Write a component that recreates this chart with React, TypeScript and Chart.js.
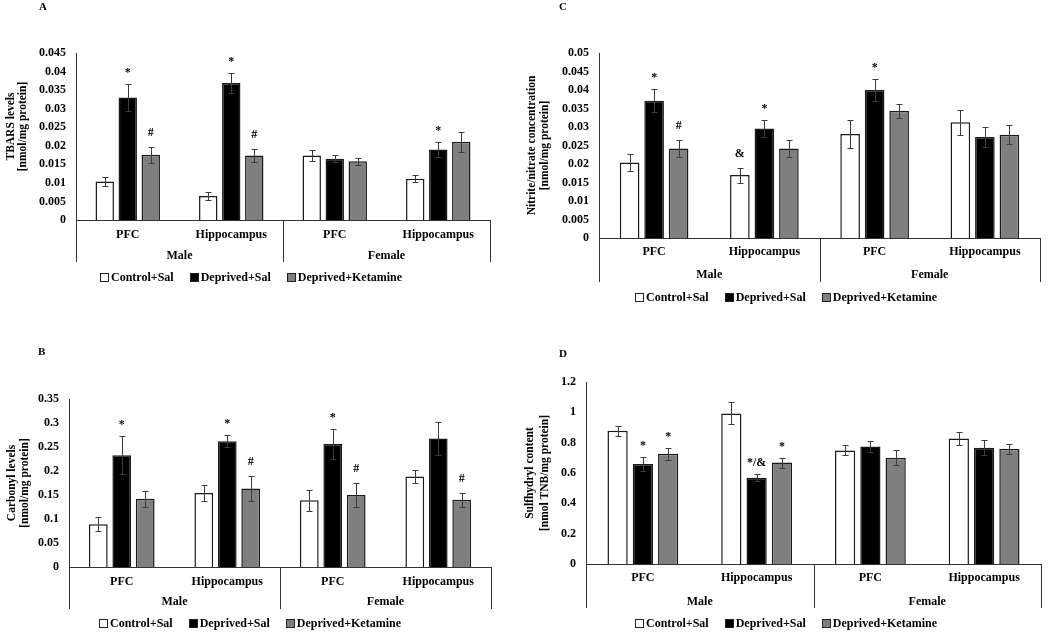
import React, { useEffect, useRef } from 'react';
import { Chart, registerables } from 'chart.js';

Chart.register(...registerables);

// ---------- shared labels ----------
const categories = ['PFC', 'Hippocampus', 'PFC', 'Hippocampus'];
const sexGroups = ['Male', 'Female'];
const seriesNames = ['Control+Sal', 'Deprived+Sal', 'Deprived+Ketamine'];
const seriesColors = ['#ffffff', '#000000', '#7f7f7f'];

// ---------- A: TBARS ----------
const tbarsControl = [0.0104, 0.0065, 0.0174, 0.0111];
const tbarsDeprived = [0.033, 0.0369, 0.0165, 0.019];
const tbarsKetamine = [0.0176, 0.0174, 0.0158, 0.0211];
const tbarsControlErr = [0.0013, 0.001, 0.0014, 0.0009];
const tbarsDeprivedErr = [0.0036, 0.0028, 0.001, 0.002];
const tbarsKetamineErr = [0.0022, 0.0018, 0.001, 0.0027];
const tbarsControlSig = ['', '', '', ''];
const tbarsDeprivedSig = ['*', '*', '', '*'];
const tbarsKetamineSig = ['#', '#', '', ''];
const tbarsAxis = [0, 0.045, 0.005];

// ---------- B: Carbonyl ----------
const carbControl = [0.089, 0.154, 0.139, 0.1885];
const carbDeprived = [0.233, 0.262, 0.256, 0.2675];
const carbKetamine = [0.142, 0.1635, 0.15, 0.14];
const carbControlErr = [0.0145, 0.016, 0.0215, 0.014];
const carbDeprivedErr = [0.039, 0.013, 0.0305, 0.034];
const carbKetamineErr = [0.017, 0.027, 0.024, 0.014];
const carbControlSig = ['', '', '', ''];
const carbDeprivedSig = ['*', '*', '*', ''];
const carbKetamineSig = ['', '#', '#', '#'];
const carbAxis = [0, 0.35, 0.05];

// ---------- C: Nitrite/nitrate ----------
const nitControl = [0.0204, 0.017, 0.0281, 0.0313];
const nitDeprived = [0.0371, 0.0296, 0.04, 0.0273];
const nitKetamine = [0.0242, 0.0242, 0.0344, 0.0279];
const nitControlErr = [0.0024, 0.002, 0.0038, 0.0034];
const nitDeprivedErr = [0.0031, 0.0023, 0.0029, 0.0028];
const nitKetamineErr = [0.0023, 0.0023, 0.0019, 0.0026];
const nitControlSig = ['', '&', '', ''];
const nitDeprivedSig = ['*', '*', '*', ''];
const nitKetamineSig = ['#', '', '', ''];
const nitAxis = [0, 0.05, 0.005];

// ---------- D: Sulfhydryl ----------
const sulfControl = [0.878, 0.993, 0.749, 0.828];
const sulfDeprived = [0.66, 0.568, 0.775, 0.766];
const sulfKetamine = [0.727, 0.669, 0.7, 0.76];
const sulfControlErr = [0.033, 0.073, 0.033, 0.042];
const sulfDeprivedErr = [0.044, 0.024, 0.037, 0.049];
const sulfKetamineErr = [0.04, 0.033, 0.049, 0.033];
const sulfControlSig = ['', '', '', ''];
const sulfDeprivedSig = ['*', '*/&', '', ''];
const sulfKetamineSig = ['*', '*', '', ''];
const sulfAxis = [0, 1.2, 0.2];

const FONT = '"Liberation Serif", "Times New Roman", serif';

type PanelCfg = {
  letter: string;
  left: number; top: number; width: number; height: number;
  plotLeft: number; plotRight: number; plotTop: number; plotBottom: number;
  axis: number[];
  titleLines: string[]; titleX: number[]; titleDy: number;
  values: number[][]; errors: number[][]; sigs: string[][];
  catDy: number; groupDy: number; sepLen: number; legendDy: number; legendCx: number;
  letterX: number; letterY: number;
};

const panels: PanelCfg[] = [
  {
    letter: 'A', left: 0, top: 0, width: 520, height: 300,
    plotLeft: 76, plotRight: 490, plotTop: 53, plotBottom: 220,
    axis: tbarsAxis,
    titleLines: ['TBARS levels', '[nmol/mg protein]'], titleX: [11, 23], titleDy: -10,
    values: [tbarsControl, tbarsDeprived, tbarsKetamine],
    errors: [tbarsControlErr, tbarsDeprivedErr, tbarsKetamineErr],
    sigs: [tbarsControlSig, tbarsDeprivedSig, tbarsKetamineSig],
    catDy: 15, groupDy: 36, sepLen: 42, legendDy: 57, legendCx: 251,
    letterX: 43, letterY: 7,
  },
  {
    letter: 'C', left: 520, top: 0, width: 530, height: 320,
    plotLeft: 79, plotRight: 520, plotTop: 53, plotBottom: 238,
    axis: nitAxis,
    titleLines: ['Nitrite/nitrate concentration', '[nmol/mg protein]'], titleX: [12, 25], titleDy: 0,
    values: [nitControl, nitDeprived, nitKetamine],
    errors: [nitControlErr, nitDeprivedErr, nitKetamineErr],
    sigs: [nitControlSig, nitDeprivedSig, nitKetamineSig],
    catDy: 14, groupDy: 37, sepLen: 44, legendDy: 59, legendCx: 266,
    letterX: 43, letterY: 7,
  },
  {
    letter: 'B', left: 0, top: 300, width: 520, height: 332,
    plotLeft: 69, plotRight: 491, plotTop: 99, plotBottom: 267,
    axis: carbAxis,
    titleLines: ['Carbonyl levels', '[nmol/mg protein]'], titleX: [12, 25], titleDy: 0,
    values: [carbControl, carbDeprived, carbKetamine],
    errors: [carbControlErr, carbDeprivedErr, carbKetamineErr],
    sigs: [carbControlSig, carbDeprivedSig, carbKetamineSig],
    catDy: 15, groupDy: 35, sepLen: 42, legendDy: 56, legendCx: 250,
    letterX: 42, letterY: 52,
  },
  {
    letter: 'D', left: 520, top: 320, width: 530, height: 312,
    plotLeft: 66, plotRight: 521, plotTop: 62, plotBottom: 244,
    axis: sulfAxis,
    titleLines: ['Sulfhydryl content', '[nmol TNB/mg protein]'], titleX: [10, 25], titleDy: 0,
    values: [sulfControl, sulfDeprived, sulfKetamine],
    errors: [sulfControlErr, sulfDeprivedErr, sulfKetamineErr],
    sigs: [sulfControlSig, sulfDeprivedSig, sulfKetamineSig],
    catDy: 14, groupDy: 38, sepLen: 44, legendDy: 59, legendCx: 266,
    letterX: 43, letterY: 34,
  },
];

function makePlugin(cfg: PanelCfg) {
  return {
    id: 'panelDecor' + cfg.letter,
    afterDatasetsDraw(chart: any) {
      const ctx = chart.ctx;
      const y = chart.scales.y;
      chart.data.datasets.forEach((ds: any, di: number) => {
        const meta = chart.getDatasetMeta(di);
        meta.data.forEach((el: any, i: number) => {
          const v = ds.data[i];
          const e = cfg.errors[di][i];
          const top = Math.round(y.getPixelForValue(v + e)) + 0.5;
          const bot = Math.round(y.getPixelForValue(v - e)) + 0.5;
          const x = Math.round(el.x) + 0.5;
          ctx.save();
          ctx.strokeStyle = '#3c3c3c';
          ctx.lineWidth = 1;
          ctx.beginPath();
          ctx.moveTo(x, top); ctx.lineTo(x, bot);
          ctx.moveTo(x - 3, top); ctx.lineTo(x + 3, top);
          ctx.moveTo(x - 3, bot); ctx.lineTo(x + 3, bot);
          ctx.stroke();
          const sig = cfg.sigs[di][i];
          if (sig) {
            ctx.fillStyle = '#000';
            ctx.font = `bold 12px ${FONT}`;
            ctx.textAlign = 'center';
            ctx.textBaseline = 'alphabetic';
            ctx.fillText(sig, el.x, top - (sig.startsWith('*') ? 9 : 12));
          }
          ctx.restore();
        });
      });
    },
    afterDraw(chart: any) {
      const ctx = chart.ctx;
      const area = chart.chartArea;
      const xs = chart.scales.x;
      ctx.save();
      // separators
      const mid = (xs.getPixelForValue(1) + xs.getPixelForValue(2)) / 2;
      const seps = [area.left, mid, area.right];
      ctx.strokeStyle = '#333';
      ctx.lineWidth = 1;
      ctx.beginPath();
      seps.forEach((sx) => {
        const px = Math.round(sx) + 0.5;
        ctx.moveTo(px, area.bottom);
        ctx.lineTo(px, area.bottom + cfg.sepLen);
      });
      ctx.stroke();
      // group labels
      ctx.fillStyle = '#000';
      ctx.font = `bold 12px ${FONT}`;
      ctx.textAlign = 'center';
      ctx.textBaseline = 'middle';
      ctx.fillText(sexGroups[0], (area.left + mid) / 2, area.bottom + cfg.groupDy);
      ctx.fillText(sexGroups[1], (mid + area.right) / 2, area.bottom + cfg.groupDy);
      // legend
      const ly = area.bottom + cfg.legendDy;
      const box = 8, gapBox = 3, gapItem = 16;
      const widths = chart.data.datasets.map((d: any) => ctx.measureText(d.label).width);
      const total = widths.reduce((a: number, w: number) => a + box + gapBox + w, 0) + gapItem * (widths.length - 1);
      let lx = cfg.legendCx - total / 2;
      chart.data.datasets.forEach((d: any, i: number) => {
        const bx = Math.round(lx) + 0.5;
        const by = Math.round(ly - box / 2) + 0.5;
        ctx.fillStyle = d.backgroundColor;
        ctx.fillRect(bx, by, box, box);
        ctx.strokeStyle = '#222';
        ctx.strokeRect(bx, by, box, box);
        ctx.fillStyle = '#000';
        ctx.textAlign = 'left';
        ctx.fillText(d.label, lx + box + gapBox, ly + 0.5);
        lx += box + gapBox + widths[i] + gapItem;
      });
      // y title
      const cy = (area.top + area.bottom) / 2 + cfg.titleDy;
      ctx.font = `bold 11.5px ${FONT}`;
      ctx.textAlign = 'center';
      cfg.titleLines.forEach((line, i) => {
        ctx.save();
        ctx.translate(cfg.titleX[i], cy);
        ctx.rotate(-Math.PI / 2);
        ctx.fillText(line, 0, 0);
        ctx.restore();
      });
      // panel letter
      ctx.font = `bold 11px ${FONT}`;
      ctx.textAlign = 'left';
      ctx.fillText(cfg.letter, cfg.letterX - 4, cfg.letterY);
      ctx.restore();
    },
  };
}

function Panel({ cfg }: { cfg: PanelCfg }) {
  const ref = useRef<HTMLCanvasElement>(null);
  useEffect(() => {
    const canvas = ref.current;
    if (!canvas) return;
    const [yMin, yMax, yStep] = cfg.axis;
    const chart = new Chart(canvas, {
      type: 'bar',
      data: {
        labels: categories,
        datasets: seriesNames.map((name, i) => ({
          label: name,
          data: cfg.values[i],
          backgroundColor: seriesColors[i],
          borderColor: '#1a1a1a',
          borderWidth: 1.5,
          categoryPercentage: 0.667,
          barPercentage: 0.8,
        })),
      },
      options: {
        responsive: false,
        animation: false,
        devicePixelRatio: 1,
        events: [],
        layout: {
          padding: { left: 0, top: cfg.plotTop, right: cfg.width - cfg.plotRight, bottom: 0 },
        },
        plugins: { legend: { display: false }, tooltip: { enabled: false } },
        scales: {
          x: {
            grid: { display: false, drawTicks: false },
            border: { display: true, color: '#333', width: 1 },
            ticks: {
              color: '#000',
              font: { family: FONT, size: 12, weight: 'bold' },
              padding: cfg.catDy - 7,
              autoSkip: false,
              maxRotation: 0,
            },
            afterFit: (s: any) => { s.height = cfg.height - cfg.plotBottom; },
          },
          y: {
            min: yMin,
            max: yMax,
            grid: { display: false, drawTicks: false },
            border: { display: true, color: '#333', width: 1 },
            ticks: {
              stepSize: yStep,
              color: '#000',
              font: { family: FONT, size: 12, weight: 'bold' },
              padding: 10,
              callback: (v: any) => String(+Number(v).toFixed(4)),
            },
            afterFit: (s: any) => { s.width = cfg.plotLeft; },
          },
        },
      },
      plugins: [makePlugin(cfg)],
    } as any);
    return () => chart.destroy();
  }, [cfg]);
  return (
    <canvas
      ref={ref}
      width={cfg.width}
      height={cfg.height}
      style={{ position: 'absolute', left: cfg.left, top: cfg.top, width: cfg.width, height: cfg.height }}
    />
  );
}

export default function App() {
  return (
    <div style={{ position: 'fixed', left: 0, top: 0, width: 1050, height: 632, background: '#fff', overflow: 'hidden' }}>
      {panels.map((p) => (
        <Panel key={p.letter} cfg={p} />
      ))}
    </div>
  );
}
